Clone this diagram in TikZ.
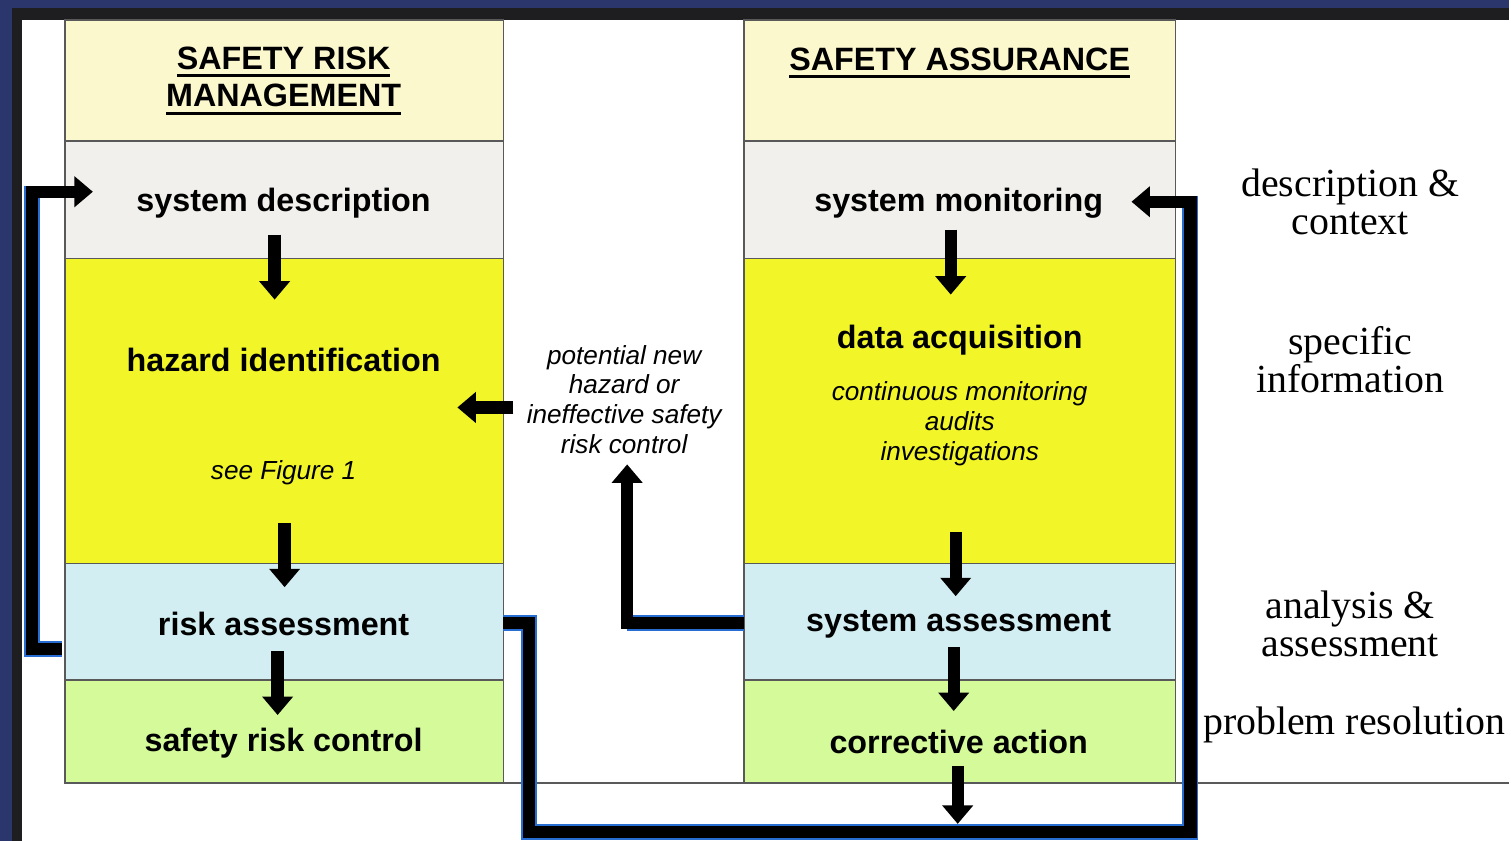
\documentclass[tikz,border=0pt]{standalone}
\usepackage{fontspec}
\setmainfont{Liberation Serif}
\setsansfont{Liberation Sans}
\usetikzlibrary{arrows.meta}

\definecolor{frameblue}{RGB}{42,54,108}
\definecolor{framedark}{RGB}{30,30,32}
\definecolor{headfill}{RGB}{252,248,206}
\definecolor{descfill}{RGB}{241,240,236}
\definecolor{hazfill}{RGB}{242,246,40}
\definecolor{assfill}{RGB}{210,238,242}
\definecolor{ctrlfill}{RGB}{212,250,154}
\definecolor{loopblue}{RGB}{40,110,210}

% underlined column titles
\newcommand\headul[1]{\leavevmode\setbox0=\hbox{#1}\rlap{\rule[-4.6pt]{\wd0}{1.7pt}}\box0}

\tikzset{
  row/.style={draw=black!65, line width=0.8pt},
  steptext/.style={font=\sffamily\bfseries\fontsize{18.4}{21.5}\selectfont, align=center},
  note/.style={font=\sffamily\itshape\fontsize{14.9}{17}\selectfont, align=center},
  side/.style={font=\rmfamily\fontsize{22.7}{21.5}\selectfont, align=center},
  flow/.style={line width=7pt, -{Triangle[width=17pt,length=10.5pt]}},
  loopedge/.style={draw=loopblue, line width=9.2pt, line join=miter},
}

\begin{document}
\begin{tikzpicture}[x=0.02cm,y=-0.02cm]
% frame
\fill[frameblue] (0,0) rectangle (1511,842);
\fill[framedark] (12,8) rectangle (1511,842);
\fill[white] (22,20) rectangle (1511,842);

% safety risk management column
\filldraw[row, fill=headfill] (65,20) rectangle (504,141);
\filldraw[row, fill=descfill] (65,141) rectangle (504,259);
\filldraw[row, fill=hazfill] (65,259) rectangle (504,564);
\filldraw[row, fill=assfill] (65,564) rectangle (504,681);
\filldraw[row, fill=ctrlfill] (65,681) rectangle (504,784);

% safety assurance column
\filldraw[row, fill=headfill] (745,20) rectangle (1177,141);
\filldraw[row, fill=descfill] (745,141) rectangle (1177,259);
\filldraw[row, fill=hazfill] (745,259) rectangle (1177,564);
\filldraw[row, fill=assfill] (745,564) rectangle (1177,681);
\filldraw[row, fill=ctrlfill] (745,681) rectangle (1177,784);
\draw[row] (65,784) -- (1511,784);

% texts
\node[steptext] (srmtitle) at (284,81) {\headul{SAFETY RISK}\\\headul{MANAGEMENT}};
\node[steptext] (satitle) at (961,63) {\headul{SAFETY ASSURANCE}};
\node[steptext] (sysdesc) at (284,203) {system description};
\node[steptext] (hazid) at (284,360) {hazard identification};
\node[note] (seefig) at (284,473) {see Figure 1};
\node[steptext] (riskass) at (284,625) {risk assessment};
\node[steptext] (riskctrl) at (284,744) {safety risk control};
\node[steptext] (sysmon) at (960,203) {system monitoring};
\node[steptext] (dataacq) at (961,341) {data acquisition};
\node[note] (monlist) at (961,424) {continuous monitoring\\audits\\investigations};
\node[steptext] (sysass) at (960,625) {system assessment};
\node[steptext] (corract) at (960,743) {corrective action};
\node[note] (potnew) at (625,400) {potential new\\hazard or\\ineffective safety\\risk control};
\node[side] (desc) at (1352,202) {description \&\\context};
\node[side] (spec) at (1352,360) {specific\\information};
\node[side] (anal) at (1352,625) {analysis \&\\assessment};
\node[side] (prob) at (1356,726) {problem resolution};

% arrow ends
\coordinate (sd1) at (275,235); \coordinate (hz0) at (275,300);
\coordinate (hz1) at (285,524); \coordinate (ra0) at (285,588);
\coordinate (ra1) at (278,652); \coordinate (rc0) at (278,716);
\coordinate (sm1) at (952,230); \coordinate (da0) at (952,295);
\coordinate (da1) at (957,533); \coordinate (sa0) at (957,597);
\coordinate (sa1) at (955,648); \coordinate (ca0) at (955,712);
\coordinate (ca1) at (959,767); \coordinate (ca2) at (959,825);
\coordinate (pn1) at (514,408); \coordinate (hzin) at (458,408);
\coordinate (saout) at (745,624); \coordinate (pntip) at (628,465);
\coordinate (raleft) at (62,650); \coordinate (sdin) at (93,192);
\coordinate (raright) at (504,624); \coordinate (smin) at (1133,202);

% down arrows
\draw[flow] (sd1) -- (hz0);
\draw[flow] (hz1) -- (ra0);
\draw[flow] (ra1) -- (rc0);
\draw[flow] (sm1) -- (da0);
\draw[flow] (da1) -- (sa0);
\draw[flow] (sa1) -- (ca0);
\draw[flow] (ca1) -- (ca2);
\draw[flow] (pn1) -- (hzin);

% feedback loops
\draw[loopedge] (saout) -- (saout -| pntip);
\draw[flow] (saout) -| (pntip);
\draw[loopedge] (raleft) -- (32,650) -- (32,186);
\draw[flow] (raleft) -- (32,650) |- (sdin);
\draw[loopedge] (raright) -- (530,624) -- (530,833) -- (1192,833) -- (1192,196);
\draw[flow] (raright) -- (530,624) -- (530,833) -- (1192,833) |- (smin);
\end{tikzpicture}
\end{document}
